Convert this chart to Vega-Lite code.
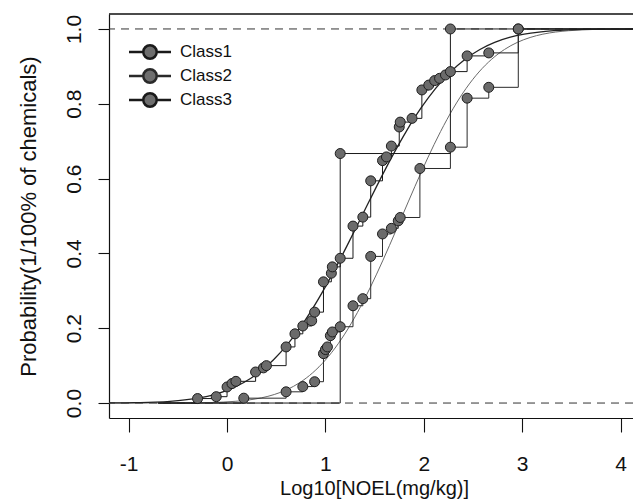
{
  "$schema": "https://vega.github.io/schema/vega-lite/v6.json",
  "width": 524,
  "height": 404,
  "autosize": {"type": "none"},
  "padding": {"left": 109, "top": 14, "right": 0, "bottom": 82},
  "config": {
    "view": {"stroke": null},
    "font": "Liberation Sans",
    "axis": {
      "grid": false,
      "domainColor": "#111111",
      "domainWidth": 1.2,
      "tickColor": "#111111",
      "tickWidth": 1.1,
      "labelColor": "#111111",
      "titleColor": "#111111",
      "labelFont": "Liberation Sans",
      "titleFont": "Liberation Sans",
      "titleFontWeight": "normal",
      "labelFlush": false,
      "labelOverlap": false
    }
  },
  "datasets": {
    "refs": [{"y": 0}, {"y": 1}],
    "fits": [
      {"cls": "fit1", "x": -1.2, "y": 0.0003}, {"cls": "fit1", "x": -1.03, "y": 0.0007}, {"cls": "fit1", "x": -0.88, "y": 0.0013}, {"cls": "fit1", "x": -0.73, "y": 0.0026}, {"cls": "fit1", "x": -0.58, "y": 0.0047}, {"cls": "fit1", "x": -0.43, "y": 0.0082}, {"cls": "fit1", "x": -0.28, "y": 0.0139}, {"cls": "fit1", "x": -0.13, "y": 0.0228}, {"cls": "fit1", "x": 0.02, "y": 0.0359}, {"cls": "fit1", "x": 0.17, "y": 0.0548}, {"cls": "fit1", "x": 0.32, "y": 0.0808}, {"cls": "fit1", "x": 0.47, "y": 0.1151}, {"cls": "fit1", "x": 0.62, "y": 0.1587}, {"cls": "fit1", "x": 0.77, "y": 0.2119}, {"cls": "fit1", "x": 0.92, "y": 0.2743}, {"cls": "fit1", "x": 1.07, "y": 0.3446}, {"cls": "fit1", "x": 1.22, "y": 0.4207}, {"cls": "fit1", "x": 1.37, "y": 0.5}, {"cls": "fit1", "x": 1.52, "y": 0.5793}, {"cls": "fit1", "x": 1.67, "y": 0.6554}, {"cls": "fit1", "x": 1.82, "y": 0.7257}, {"cls": "fit1", "x": 1.97, "y": 0.7881}, {"cls": "fit1", "x": 2.12, "y": 0.8413}, {"cls": "fit1", "x": 2.27, "y": 0.8849}, {"cls": "fit1", "x": 2.42, "y": 0.9192}, {"cls": "fit1", "x": 2.57, "y": 0.9452}, {"cls": "fit1", "x": 2.72, "y": 0.9641}, {"cls": "fit1", "x": 2.87, "y": 0.9772}, {"cls": "fit1", "x": 3.02, "y": 0.9861}, {"cls": "fit1", "x": 3.17, "y": 0.9918}, {"cls": "fit1", "x": 3.32, "y": 0.9953}, {"cls": "fit1", "x": 3.47, "y": 0.9974}, {"cls": "fit1", "x": 3.62, "y": 0.9987}, {"cls": "fit1", "x": 3.77, "y": 0.9993}, {"cls": "fit1", "x": 3.92, "y": 0.9997}, {"cls": "fit1", "x": 4.07, "y": 0.9998}, {"cls": "fit1", "x": 4.22, "y": 0.9999},
      {"cls": "fit2", "x": -1.2, "y": 0.0}, {"cls": "fit2", "x": -0.43, "y": 0.0003}, {"cls": "fit2", "x": -0.3, "y": 0.0007}, {"cls": "fit2", "x": -0.17, "y": 0.0013}, {"cls": "fit2", "x": -0.04, "y": 0.0026}, {"cls": "fit2", "x": 0.09, "y": 0.0047}, {"cls": "fit2", "x": 0.22, "y": 0.0082}, {"cls": "fit2", "x": 0.35, "y": 0.0139}, {"cls": "fit2", "x": 0.48, "y": 0.0228}, {"cls": "fit2", "x": 0.61, "y": 0.0359}, {"cls": "fit2", "x": 0.74, "y": 0.0548}, {"cls": "fit2", "x": 0.87, "y": 0.0808}, {"cls": "fit2", "x": 1.0, "y": 0.1151}, {"cls": "fit2", "x": 1.13, "y": 0.1587}, {"cls": "fit2", "x": 1.26, "y": 0.2119}, {"cls": "fit2", "x": 1.39, "y": 0.2743}, {"cls": "fit2", "x": 1.52, "y": 0.3446}, {"cls": "fit2", "x": 1.65, "y": 0.4207}, {"cls": "fit2", "x": 1.78, "y": 0.5}, {"cls": "fit2", "x": 1.91, "y": 0.5793}, {"cls": "fit2", "x": 2.04, "y": 0.6554}, {"cls": "fit2", "x": 2.17, "y": 0.7257}, {"cls": "fit2", "x": 2.3, "y": 0.7881}, {"cls": "fit2", "x": 2.43, "y": 0.8413}, {"cls": "fit2", "x": 2.56, "y": 0.8849}, {"cls": "fit2", "x": 2.69, "y": 0.9192}, {"cls": "fit2", "x": 2.82, "y": 0.9452}, {"cls": "fit2", "x": 2.95, "y": 0.9641}, {"cls": "fit2", "x": 3.08, "y": 0.9772}, {"cls": "fit2", "x": 3.21, "y": 0.9861}, {"cls": "fit2", "x": 3.34, "y": 0.9918}, {"cls": "fit2", "x": 3.47, "y": 0.9953}, {"cls": "fit2", "x": 3.6, "y": 0.9974}, {"cls": "fit2", "x": 3.73, "y": 0.9987}, {"cls": "fit2", "x": 3.86, "y": 0.9993}, {"cls": "fit2", "x": 3.99, "y": 0.9997}, {"cls": "fit2", "x": 4.12, "y": 0.9998}, {"cls": "fit2", "x": 4.25, "y": 0.9999}
    ],
    "steps": [
      {"cls": "Class1", "x": -0.7, "y": 0, "kind": "end"},
      {"cls": "Class1", "x": -0.3, "y": 0.012, "kind": "pt"},
      {"cls": "Class1", "x": -0.11, "y": 0.017, "kind": "pt"},
      {"cls": "Class1", "x": 0.0, "y": 0.043, "kind": "pt"},
      {"cls": "Class1", "x": 0.05, "y": 0.052, "kind": "pt"},
      {"cls": "Class1", "x": 0.09, "y": 0.058, "kind": "pt"},
      {"cls": "Class1", "x": 0.29, "y": 0.083, "kind": "pt"},
      {"cls": "Class1", "x": 0.37, "y": 0.094, "kind": "pt"},
      {"cls": "Class1", "x": 0.4, "y": 0.1, "kind": "pt"},
      {"cls": "Class1", "x": 0.6, "y": 0.15, "kind": "pt"},
      {"cls": "Class1", "x": 0.69, "y": 0.185, "kind": "pt"},
      {"cls": "Class1", "x": 0.77, "y": 0.206, "kind": "pt"},
      {"cls": "Class1", "x": 0.86, "y": 0.22, "kind": "pt"},
      {"cls": "Class1", "x": 0.89, "y": 0.243, "kind": "pt"},
      {"cls": "Class1", "x": 0.98, "y": 0.324, "kind": "pt"},
      {"cls": "Class1", "x": 1.06, "y": 0.347, "kind": "pt"},
      {"cls": "Class1", "x": 1.07, "y": 0.364, "kind": "pt"},
      {"cls": "Class1", "x": 1.15, "y": 0.387, "kind": "pt"},
      {"cls": "Class1", "x": 1.28, "y": 0.473, "kind": "pt"},
      {"cls": "Class1", "x": 1.38, "y": 0.497, "kind": "pt"},
      {"cls": "Class1", "x": 1.46, "y": 0.594, "kind": "pt"},
      {"cls": "Class1", "x": 1.58, "y": 0.648, "kind": "pt"},
      {"cls": "Class1", "x": 1.62, "y": 0.658, "kind": "pt"},
      {"cls": "Class1", "x": 1.67, "y": 0.687, "kind": "pt"},
      {"cls": "Class1", "x": 1.75, "y": 0.738, "kind": "pt"},
      {"cls": "Class1", "x": 1.76, "y": 0.751, "kind": "pt"},
      {"cls": "Class1", "x": 1.88, "y": 0.761, "kind": "pt"},
      {"cls": "Class1", "x": 1.98, "y": 0.837, "kind": "pt"},
      {"cls": "Class1", "x": 2.05, "y": 0.85, "kind": "pt"},
      {"cls": "Class1", "x": 2.11, "y": 0.862, "kind": "pt"},
      {"cls": "Class1", "x": 2.16, "y": 0.868, "kind": "pt"},
      {"cls": "Class1", "x": 2.22, "y": 0.877, "kind": "pt"},
      {"cls": "Class1", "x": 2.27, "y": 0.886, "kind": "pt"},
      {"cls": "Class1", "x": 2.44, "y": 0.928, "kind": "pt"},
      {"cls": "Class1", "x": 2.66, "y": 0.936, "kind": "pt"},
      {"cls": "Class1", "x": 2.96, "y": 1.0, "kind": "pt"},
      {"cls": "Class1", "x": 4.3, "y": 1.0, "kind": "end"},
      {"cls": "Class2", "x": -0.7, "y": 0, "kind": "end"},
      {"cls": "Class2", "x": 0.17, "y": 0.013, "kind": "pt"},
      {"cls": "Class2", "x": 0.6, "y": 0.03, "kind": "pt"},
      {"cls": "Class2", "x": 0.77, "y": 0.044, "kind": "pt"},
      {"cls": "Class2", "x": 0.89, "y": 0.057, "kind": "pt"},
      {"cls": "Class2", "x": 0.98, "y": 0.132, "kind": "pt"},
      {"cls": "Class2", "x": 1.0, "y": 0.143, "kind": "pt"},
      {"cls": "Class2", "x": 1.02, "y": 0.15, "kind": "pt"},
      {"cls": "Class2", "x": 1.05, "y": 0.18, "kind": "pt"},
      {"cls": "Class2", "x": 1.07, "y": 0.19, "kind": "pt"},
      {"cls": "Class2", "x": 1.15, "y": 0.204, "kind": "pt"},
      {"cls": "Class2", "x": 1.28, "y": 0.26, "kind": "pt"},
      {"cls": "Class2", "x": 1.38, "y": 0.279, "kind": "pt"},
      {"cls": "Class2", "x": 1.46, "y": 0.392, "kind": "pt"},
      {"cls": "Class2", "x": 1.58, "y": 0.452, "kind": "pt"},
      {"cls": "Class2", "x": 1.67, "y": 0.467, "kind": "pt"},
      {"cls": "Class2", "x": 1.74, "y": 0.487, "kind": "pt"},
      {"cls": "Class2", "x": 1.76, "y": 0.496, "kind": "pt"},
      {"cls": "Class2", "x": 1.96, "y": 0.627, "kind": "pt"},
      {"cls": "Class2", "x": 2.27, "y": 0.684, "kind": "pt"},
      {"cls": "Class2", "x": 2.44, "y": 0.815, "kind": "pt"},
      {"cls": "Class2", "x": 2.66, "y": 0.844, "kind": "pt"},
      {"cls": "Class2", "x": 2.96, "y": 1.0, "kind": "pt"},
      {"cls": "Class2", "x": 4.3, "y": 1.0, "kind": "end"},
      {"cls": "Class3", "x": -0.7, "y": 0, "kind": "end"},
      {"cls": "Class3", "x": 1.15, "y": 0.667, "kind": "pt"},
      {"cls": "Class3", "x": 2.27, "y": 1.0, "kind": "pt"},
      {"cls": "Class3", "x": 4.3, "y": 1.0, "kind": "end"}
    ]
  },
  "layer": [
    {
      "data": {"name": "refs"},
      "mark": {"type": "rule", "color": "#333333", "strokeWidth": 1, "strokeDash": [8, 6]},
      "encoding": {
        "y": {"field": "y", "type": "quantitative", "scale": {"domain": [-0.04, 1.04], "nice": false, "zero": false}}
      }
    },
    {
      "data": {"name": "refs"},
      "mark": {"type": "rule", "color": "#111111", "strokeWidth": 1.2},
      "encoding": {
        "y": {"datum": 1.04, "type": "quantitative", "scale": {"domain": [-0.04, 1.04], "nice": false, "zero": false}}
      }
    },
    {
      "data": {"name": "fits"},
      "transform": [{"filter": "datum.cls == 'fit2'"}],
      "mark": {"type": "line", "color": "#6a6a6a", "strokeWidth": 1, "interpolate": "monotone", "clip": true},
      "encoding": {
        "x": {
          "field": "x", "type": "quantitative",
          "scale": {"domain": [-1.2, 4.126], "nice": false, "zero": false},
          "axis": {
            "values": [-1, 0, 1, 2, 3, 4],
            "labelExpr": "'' + datum.value",
            "tickSize": 14,
            "labelFontSize": 21,
            "labelBaseline": "alphabetic",
            "labelPadding": 38,
            "title": "Log10[NOEL(mg/kg)]",
            "titleFontSize": 20,
            "titleX": 265,
            "titleY": 76,
            "titleBaseline": "alphabetic",
            "titleAnchor": "middle"
          }
        },
        "y": {
          "field": "y", "type": "quantitative",
          "scale": {"domain": [-0.04, 1.04], "nice": false, "zero": false},
          "axis": {
            "values": [0, 0.2, 0.4, 0.6, 0.8, 1],
            "format": ".1f",
            "tickSize": 11,
            "labelFontSize": 21,
            "labelAngle": 270,
            "labelAlign": "center",
            "labelBaseline": "alphabetic",
            "labelPadding": 18,
            "title": "Probability(1/100% of chemicals)",
            "titleFontSize": 22,
            "titleAngle": 270,
            "titleX": -74,
            "titleY": 202,
            "titleAlign": "center",
            "titleBaseline": "alphabetic"
          }
        }
      }
    },
    {
      "data": {"name": "fits"},
      "transform": [{"filter": "datum.cls == 'fit1'"}],
      "mark": {"type": "line", "color": "#222222", "strokeWidth": 1.3, "interpolate": "monotone", "clip": true},
      "encoding": {
        "x": {"field": "x", "type": "quantitative", "scale": {"domain": [-1.2, 4.126], "nice": false, "zero": false}},
        "y": {"field": "y", "type": "quantitative", "scale": {"domain": [-0.04, 1.04], "nice": false, "zero": false}}
      }
    },
    {
      "data": {"name": "steps"},
      "mark": {"type": "line", "strokeWidth": 1, "interpolate": "step-after", "clip": true},
      "encoding": {
        "x": {"field": "x", "type": "quantitative", "scale": {"domain": [-1.2, 4.126], "nice": false, "zero": false}},
        "y": {"field": "y", "type": "quantitative", "scale": {"domain": [-0.04, 1.04], "nice": false, "zero": false}},
        "color": {
          "field": "cls", "type": "nominal",
          "scale": {"domain": ["Class1", "Class2", "Class3"], "range": ["#1a1a1a", "#2a2a2a", "#1a1a1a"]},
          "legend": {
            "title": null,
            "orient": "none",
            "legendX": 29,
            "legendY": 26,
            "padding": 0,
            "symbolType": "M-2,0L-0.64,0M0.64,0L2,0M-0.64,0A0.64,0.64 0 1,1 0.64,0A0.64,0.64 0 1,1 -0.64,0Z",
            "symbolSize": 441,
            "symbolStrokeWidth": 2.5,
            "labelFontSize": 17,
            "labelFont": "Liberation Sans",
            "labelColor": "#111111",
            "labelOffset": 18,
            "rowPadding": 0,
            "encode": {
              "symbols": {
                "update": {
                  "fill": {"value": "#6e6e6e"},
                  "fillOpacity": {"value": 1},
                  "stroke": {"value": "#1a1a1a"},
                  "strokeWidth": {"value": 2.5},
                  "opacity": {"value": 1}
                }
              }
            }
          }
        }
      }
    },
    {
      "data": {"name": "steps"},
      "transform": [{"filter": "datum.kind == 'pt'"}],
      "mark": {"type": "point", "filled": true, "fill": "#6b6b6b", "stroke": "#1e1e1e", "strokeWidth": 1, "size": 100, "opacity": 1},
      "encoding": {
        "x": {"field": "x", "type": "quantitative", "scale": {"domain": [-1.2, 4.126], "nice": false, "zero": false}},
        "y": {"field": "y", "type": "quantitative", "scale": {"domain": [-0.04, 1.04], "nice": false, "zero": false}}
      }
    }
  ]
}
